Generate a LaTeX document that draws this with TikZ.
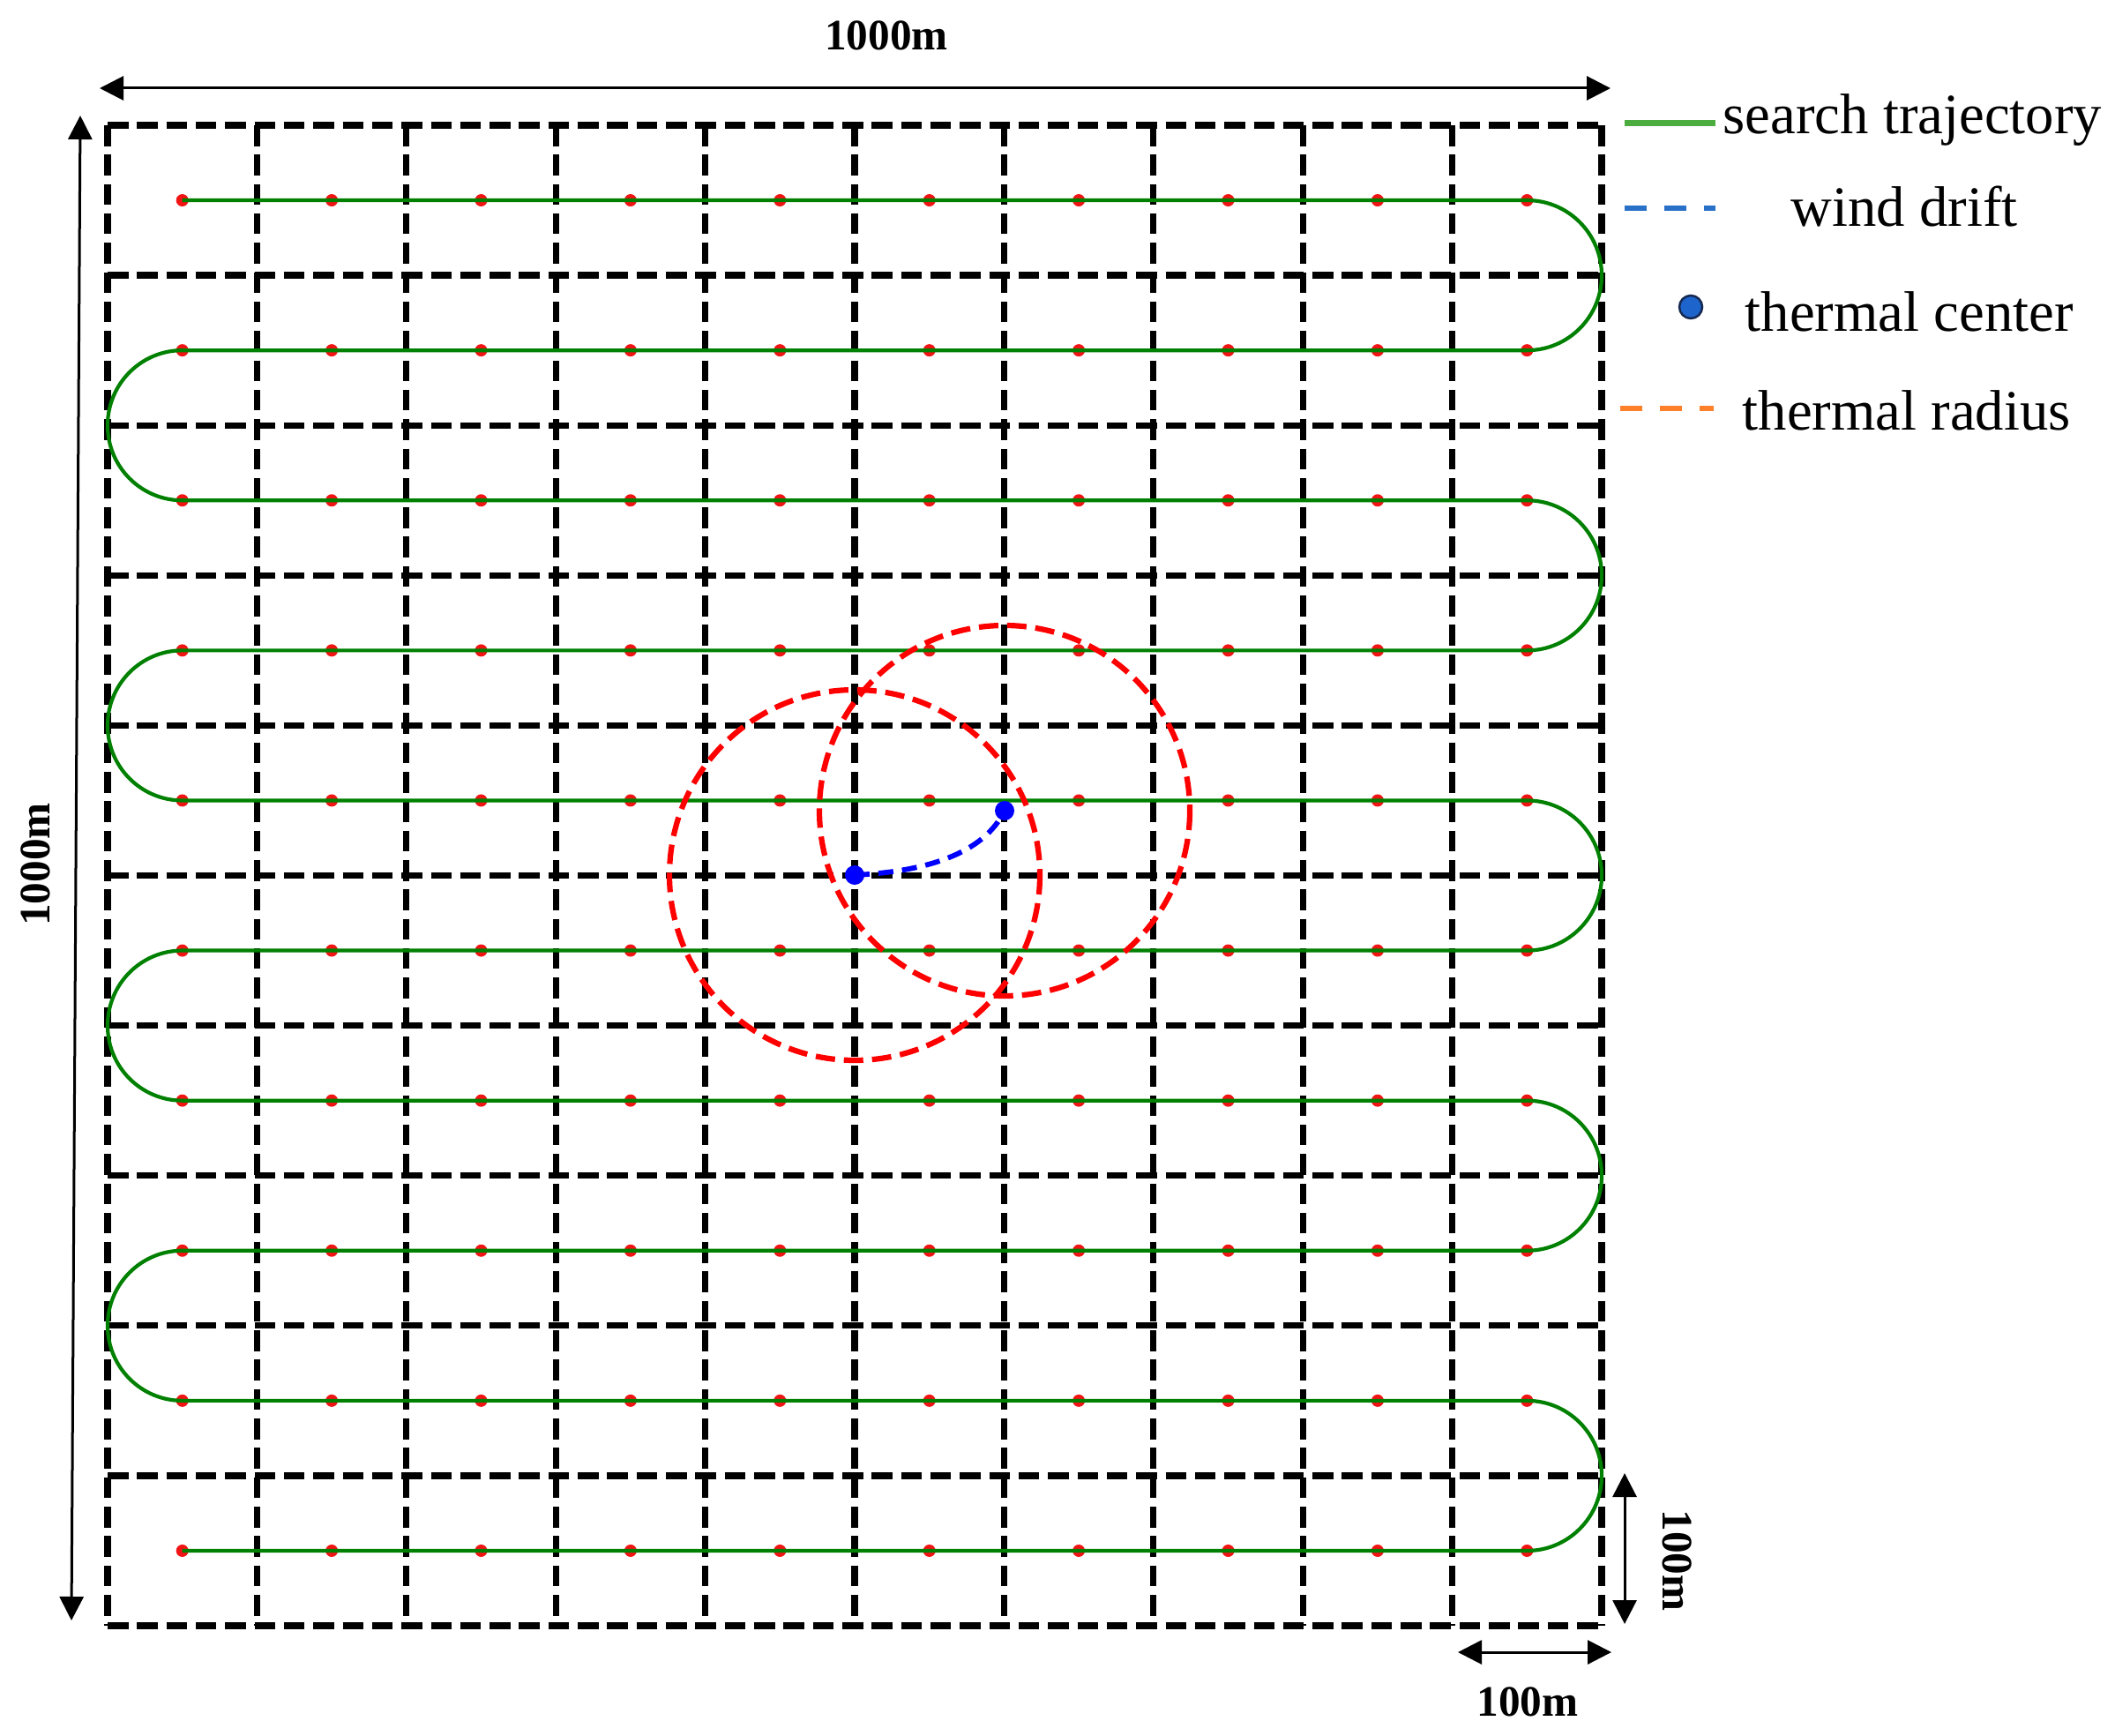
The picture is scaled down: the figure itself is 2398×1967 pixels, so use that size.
\documentclass[tikz,border=0pt]{standalone}
\usepackage{fontspec}
\setmainfont{Liberation Serif}
\usetikzlibrary{arrows.meta}
\definecolor{trajgreen}{RGB}{0,128,0}
\definecolor{leggreen}{RGB}{77,172,64}
\definecolor{legblue}{RGB}{41,112,200}
\definecolor{legorange}{RGB}{255,128,42}
\definecolor{dotred}{RGB}{240,20,20}
\definecolor{centerblue}{RGB}{30,100,205}
\definecolor{centeredge}{RGB}{20,40,80}
\begin{document}
\begin{tikzpicture}[x=0.01cm,y=-0.01cm,
  gridline/.style={line width=0.072cm, dash pattern=on 0.235cm off 0.098cm},
  traj/.style={trajgreen, line width=0.042cm},
  radiusline/.style={red, line width=0.062cm, dash pattern=on 0.22cm off 0.1cm},
  driftline/.style={blue, line width=0.058cm, dash pattern=on 0.17cm off 0.1cm},
  dimarrow/.style={line width=0.03cm, {Triangle[length=0.27cm,width=0.27cm]}-{Triangle[length=0.27cm,width=0.27cm]}},
  dimlabel/.style={font=\fontsize{14}{16}\selectfont\bfseries, inner sep=0},
  legtext/.style={font=\fontsize{18.4}{22}\selectfont, inner sep=0, anchor=base west},
  legdash/.style={line width=0.06cm, dash pattern=on 0.25cm off 0.2cm},
]
\useasboundingbox (0,0) rectangle (2398,1967);

% grid
\foreach \i in {0,...,10} {
  \pgfmathsetmacro\gx{122+\i*169.4}
  \draw[gridline] (\gx,142) -- (\gx,1843);
  \pgfmathsetmacro\gy{142+\i*170.1}
  \draw[gridline] (122,\gy) -- (1816,\gy);
}

% waypoints
\foreach \r in {0,...,9} {
  \foreach \c in {0,...,9} {
    \fill[dotred] ({122+(\c+0.5)*169.4},{142+(\r+0.5)*170.1}) circle[radius=7];
  }
}

% search trajectory
\draw[traj] (206.7,227.05) -- (1731.3,227.05)
  arc[start angle=-90,end angle=90,x radius=84.7,y radius=85.05]
  -- (206.7,397.15) arc[start angle=270,end angle=90,x radius=84.7,y radius=85.05]
  -- (1731.3,567.25) arc[start angle=-90,end angle=90,x radius=84.7,y radius=85.05]
  -- (206.7,737.35) arc[start angle=270,end angle=90,x radius=84.7,y radius=85.05]
  -- (1731.3,907.45) arc[start angle=-90,end angle=90,x radius=84.7,y radius=85.05]
  -- (206.7,1077.55) arc[start angle=270,end angle=90,x radius=84.7,y radius=85.05]
  -- (1731.3,1247.65) arc[start angle=-90,end angle=90,x radius=84.7,y radius=85.05]
  -- (206.7,1417.75) arc[start angle=270,end angle=90,x radius=84.7,y radius=85.05]
  -- (1731.3,1587.85) arc[start angle=-90,end angle=90,x radius=84.7,y radius=85.05]
  -- (206.7,1757.95);

% thermal radii
\coordinate (c1) at (969,992);
\coordinate (c2) at (1139,919);
\draw[radiusline] (c1) circle[radius=210];
\draw[radiusline] (c2) circle[radius=210];

% wind drift
\draw[driftline] (c1) .. controls (1050,988) and (1115,968) .. (c2);
\fill[blue] (c1) circle[radius=11];
\fill[blue] (c2) circle[radius=11];

% dimension arrows
\coordinate (tl) at (113,100);
\coordinate (tr) at (1826,100);
\draw[dimarrow] (tl) -- (tr);
\node[dimlabel] (toplab) at (1005,40) {1000m};

\coordinate (lt) at (91,131);
\coordinate (lb) at (81,1837);
\draw[dimarrow] (lb) -- (lt);
\node[dimlabel, rotate=90] (leftlab) at (40,980) {1000m};

\coordinate (rt) at (1842,1670);
\coordinate (rb) at (1842,1841);
\draw[dimarrow] (rt) -- (rb);
\node[dimlabel, rotate=-90] (rightlab) at (1902,1769) {100m};

\coordinate (bl) at (1653,1873);
\coordinate (br) at (1827,1873);
\draw[dimarrow] (bl) -- (br);
\node[dimlabel] (botlab) at (1732,1929) {100m};

% legend
\coordinate (g1) at (1842,140);
\coordinate (g2) at (1945,140);
\draw[leggreen, line width=0.07cm] (g1) -- (g2);
\node[legtext] (l1) at (1953,152) {search trajectory};

\coordinate (b1) at (1842,236);
\coordinate (b2) at (1945,236);
\draw[legblue, legdash] (b1) -- (b2);
\node[legtext] (l2) at (2030,257) {wind drift};

\filldraw[fill=centerblue, draw=centeredge, line width=0.025cm] (1917,348) circle[radius=13];
\node[legtext] (l3) at (1978,375) {thermal center};

\coordinate (o1) at (1837,463);
\coordinate (o2) at (1943,463);
\draw[legorange, legdash] (o1) -- (o2);
\node[legtext] (l4) at (1975,487) {thermal radius};
\end{tikzpicture}
\end{document}
